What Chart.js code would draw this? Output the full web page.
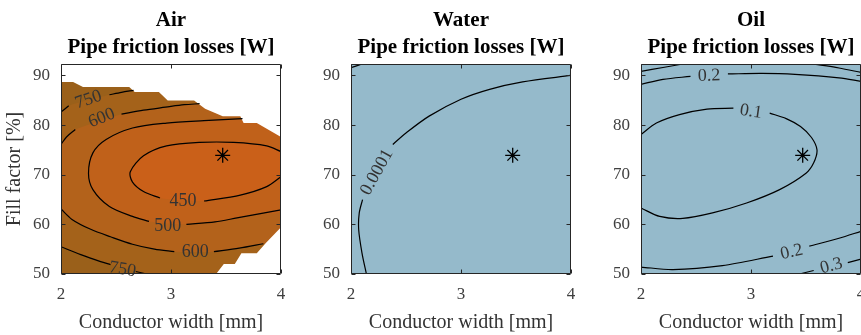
<!DOCTYPE html>
<html>
<head>
<meta charset="utf-8">
<script src="https://cdn.jsdelivr.net/npm/chart.js@4"></script>
<style>
  html, body { margin: 0; padding: 0; background: #fff; overflow: hidden; }
  .panel { position: absolute; top: 0; width: 290px; height: 335px; }
</style>
</head>
<body>
<div class="panel" style="left:0px"><canvas id="air" width="290" height="335"></canvas></div>
<div class="panel" style="left:290px"><canvas id="water" width="290" height="335"></canvas></div>
<div class="panel" style="left:580px"><canvas id="oil" width="290" height="335"></canvas></div>
<script>
// axes (conductor width [mm], fill factor [%])
const xTicks = [2, 3, 4];
const yTicks = [50, 60, 70, 80, 90];
const xRange = [2, 4];
const yRange = [50, 92.3];
const optimum = [3.47, 73.9];

// ---- Air: contour lines (null = gap for the inline label) ----
const air750Top = [[2, 82.6], [2.07, 83.9], null, [2.44, 86.1], [2.55, 86.6], [2.66, 87.0]];
const air600Top = [[2, 76.1], [2.05, 77.6], [2.13, 79.1], null, [2.55, 82.2], [2.75, 83.0], [2.95, 83.6], [3.12, 84.1], [3.26, 84.3]];
const air500 = [[3.65, 81.3], [3.3, 80.9], [2.96, 80.4], [2.65, 79.4], [2.41, 77.1], [2.29, 74.4], [2.25, 70.3], [2.29, 67.0], [2.44, 63.6], [2.65, 61.6], [2.8, 60.6], null, [3.14, 60.0], [3.4, 60.5], [3.6, 61.3], [3.8, 62.1], [4.0, 62.9]];
const air450 = [[4.0, 74.65], [3.87, 75.8], [3.57, 76.5], [3.26, 76.5], [2.96, 75.8], [2.75, 73.8], [2.63, 70.6], [2.65, 68.5], [2.75, 66.6], [2.9, 65.3], null, [3.3, 64.7], [3.63, 65.9], [3.87, 67.6], [4.0, 69.6]];
const air600Bot = [[2, 63.1], [2.1, 61.0], [2.27, 59.0], [2.45, 57.5], [2.65, 56.0], [2.85, 55.0], [3.03, 54.5], null, [3.39, 54.5], [3.62, 55.2], [3.84, 56.1]];
const air750Bot = [[2, 55.5], [2.18, 53.9], [2.36, 52.5], [2.45, 51.9], null, [2.68, 50.5], [2.78, 50.0]];
// valid design region edges (outside is blank)
const airEdgeTop = [[2, 88.65], [2.11, 88.65], [2.2, 87.65], [2.62, 87.65], [2.67, 86.65], [2.89, 86.65], [2.97, 84.97], [3.21, 84.97], [3.31, 83.3], [3.47, 81.76], [3.63, 81.76], [3.66, 80.4], [3.78, 80.4], [4, 77.6]];
const airEdgeBot = [[3.41, 50], [3.48, 52.0], [3.58, 52.0], [3.64, 54.2], [3.78, 54.2], [3.86, 56.2], [4, 59.4]];
const airLabels = [['750', 2.25, 85.1, -19], ['600', 2.37, 81.4, -22], ['450', 3.11, 64.6, 0], ['500', 2.97, 59.7, 0], ['600', 3.22, 54.3, 0], ['750', 2.56, 50.9, 9]];

// ---- Water ----
const water0001 = [[2.14, 50], [2.1, 54.2], [2.07, 58.9], [2.075, 62.3], [2.105, 65.0], null, [2.38, 76.1], [2.5, 78.4], [2.71, 81.8], [3.0, 85.2], [3.26, 87.2], [3.56, 88.7], [4.0, 90.0]];
const waterCorner = [[2, 91.55], [2.1, 92.3]];
const waterLabels = [['0.0001', 2.235, 70.5, -61]];

// ---- Oil ----
const oilTopLeft = [[2, 90.8], [2.2, 91.6], [2.38, 92.3]];
const oil02Top = [[2, 88.2], [2.2, 89.2], [2.45, 89.8], null, [2.79, 90.3], [3.1, 90.4], [3.4, 90.2], [3.8, 89.5], [4.0, 88.8]];
const oilTopRight = [[3.56, 92.3], [3.8, 91.5], [4.0, 90.6]];
const oil01 = [[2, 78.1], [2.14, 80.4], [2.35, 82.1], [2.6, 83.2], [2.84, 83.4], null, [3.17, 82.4], [3.32, 81.3], [3.45, 79.7], [3.55, 77.5], [3.6, 75.0], [3.57, 72.4], [3.5, 70.3], [3.26, 67.0], [2.96, 64.3], [2.65, 62.3], [2.38, 61.2], [2.17, 61.6], [2, 63.3]];
const oil02Bot = [[2, 51.4], [2.29, 50.9], [2.74, 51.7], [3.2, 53.6], null, [3.53, 55.6], [3.8, 57.2], [4, 58.6]];
const oil03 = [[3.44, 50], [3.57, 50.7], null, [3.88, 52.3], [4, 53]];
const oilLabels = [['0.2', 2.62, 89.9, -2], ['0.1', 3.0, 82.7, 8], ['0.2', 3.37, 54.4, -13], ['0.3', 3.73, 51.6, -15]];

const airColors = ['#9a601a', '#a4621a', '#b3621b', '#c0611a', '#ca6019'];
const liquidColor = '#95bacb';

Chart.defaults.font.family = 'Liberation Serif';

const full = [[xRange[0], yRange[0]], [xRange[1], yRange[0]], [xRange[1], yRange[1]], [xRange[0], yRange[1]]];
const solid = arr => arr.filter(p => p);
const rev = arr => solid(arr).slice().reverse();

function toXY(arr) { return arr.map(p => ({ x: p[0], y: p[1] })); }
function split(arr) {
    const out = [[]];
    arr.forEach(p => p ? out[out.length - 1].push(p) : out.push([]));
    return out;
}

function areaSet(arr, color, tension) {
    return { data: toXY(arr), showLine: true, fill: 'shape', backgroundColor: color,
             borderColor: 'rgba(0,0,0,0)', borderWidth: 0, pointRadius: 0, tension: tension };
}
function lineSet(arr) {
    return { data: toXY(arr), showLine: true, fill: false, borderColor: '#000',
             borderWidth: 1.2, pointRadius: 0, tension: 0.3 };
}

// inline contour labels
const contourLabels = {
    id: 'contourLabels',
    afterDatasetsDraw(chart, args, opts) {
        const { ctx, scales: { x, y } } = chart;
        ctx.save();
        ctx.font = '18px "Liberation Serif"';
        ctx.fillStyle = '#333';
        ctx.textAlign = 'center';
        ctx.textBaseline = 'middle';
        (opts.labels || []).forEach(l => {
            ctx.save();
            ctx.translate(x.getPixelForValue(l[1]), y.getPixelForValue(l[2]));
            ctx.rotate(l[3] * Math.PI / 180);
            ctx.fillText(l[0], 0, 0);
            ctx.restore();
        });
        ctx.restore();
    }
};

// box around the axes with inward ticks on all sides
const axesBox = {
    id: 'axesBox',
    afterDraw(chart) {
        const { ctx, chartArea: a, scales: { x, y } } = chart;
        const L = Math.round(a.left) + 0.5, R = Math.round(a.right) - 0.5;
        const T = Math.round(a.top) + 0.5, B = Math.round(a.bottom) - 0.5;
        ctx.save();
        ctx.strokeStyle = '#262626';
        ctx.lineWidth = 1;
        ctx.beginPath();
        ctx.rect(L, T, R - L, B - T);
        x.ticks.forEach(t => {
            const px = Math.round(x.getPixelForValue(t.value)) + 0.5;
            ctx.moveTo(px, B); ctx.lineTo(px, B - 4);
            ctx.moveTo(px, T); ctx.lineTo(px, T + 4);
        });
        y.ticks.forEach(t => {
            const py = Math.round(y.getPixelForValue(t.value)) + 0.5;
            ctx.moveTo(L, py); ctx.lineTo(L + 4, py);
            ctx.moveTo(R, py); ctx.lineTo(R - 4, py);
        });
        ctx.stroke();
        ctx.restore();
    }
};

function fixX(s) { s.height = 61; s.paddingLeft = 0; s.paddingRight = 0; }
function fixY(s) { s.width = 61; s.paddingTop = 0; s.paddingBottom = 0; }

function buildChart(id, spec) {
    const sets = [];
    spec.areas.forEach(a => sets.push(areaSet(a[0], a[1], a[2])));
    spec.lines.forEach(l => split(l).forEach(s => sets.push(lineSet(s))));
    sets.push({ data: toXY([optimum]), pointStyle: 'star', pointRadius: 7.5, borderWidth: 1.3,
                borderColor: '#000', backgroundColor: 'rgba(0,0,0,0)' });
    sets.forEach((s, i) => { s.order = sets.length - i; });

    return new Chart(document.getElementById(id), {
        type: 'scatter',
        data: { datasets: sets },
        options: {
            responsive: false,
            animation: false,
            events: [],
            layout: { padding: { left: 0, right: 9, top: 0, bottom: 0 } },
            plugins: {
                legend: { display: false },
                tooltip: { enabled: false },
                title: {
                    display: true, fullSize: false,
                    text: [spec.title, 'Pipe friction losses [W]'],
                    color: '#000',
                    font: { size: 21, weight: 'bold', lineHeight: 1.3 },
                    padding: { top: 7, bottom: 2.4 }
                },
                contourLabels: { labels: spec.labels }
            },
            scales: {
                x: {
                    type: 'linear', min: xRange[0], max: xRange[1],
                    afterBuildTicks: s => { s.ticks = xTicks.map(v => ({ value: v })); },
                    afterFit: fixX,
                    grid: { display: false, drawTicks: false },
                    border: { display: false },
                    ticks: { color: '#404040', padding: 10, font: { size: 17 } },
                    title: { display: true, text: 'Conductor width [mm]', color: '#333',
                             font: { size: 20 }, padding: { top: 0, bottom: 0 } }
                },
                y: {
                    type: 'linear', min: yRange[0], max: yRange[1],
                    afterBuildTicks: s => { s.ticks = yTicks.map(v => ({ value: v })); },
                    afterFit: fixY,
                    grid: { display: false, drawTicks: false },
                    border: { display: false },
                    ticks: { color: '#404040', padding: 11, font: { size: 17 } },
                    title: { display: !!spec.yTitle, text: spec.yTitle || '', color: '#333',
                             font: { size: 20 }, padding: { top: 3, bottom: 0 } }
                }
            }
        },
        plugins: [contourLabels, axesBox]
    });
}

buildChart('air', {
    title: 'Air',
    yTitle: 'Fill factor [%]',
    areas: [
        [full, airColors[0], 0],
        [solid(air750Top).concat([[4, 87.5], [4, 50]], rev(air750Bot)), airColors[1], 0.3],
        [solid(air600Top).concat([[4, 84.5], [4, 56.1]], rev(air600Bot)), airColors[2], 0.3],
        [solid(air500).concat([[4, 81.5]]), airColors[3], 0.3],
        [solid(air450), airColors[4], 0.3],
        [airEdgeTop.concat([[4, yRange[1]], [2, yRange[1]]]), '#fff', 0],
        [airEdgeBot.concat([[4, 50]]), '#fff', 0]
    ],
    lines: [air750Top, air600Top, air500, air450, air600Bot, air750Bot],
    labels: airLabels
});

buildChart('water', {
    title: 'Water',
    areas: [[full, liquidColor, 0]],
    lines: [water0001, waterCorner],
    labels: waterLabels
});

buildChart('oil', {
    title: 'Oil',
    areas: [[full, liquidColor, 0]],
    lines: [oilTopLeft, oil02Top, oilTopRight, oil01, oil02Bot, oil03],
    labels: oilLabels
});
</script>
</body>
</html>
